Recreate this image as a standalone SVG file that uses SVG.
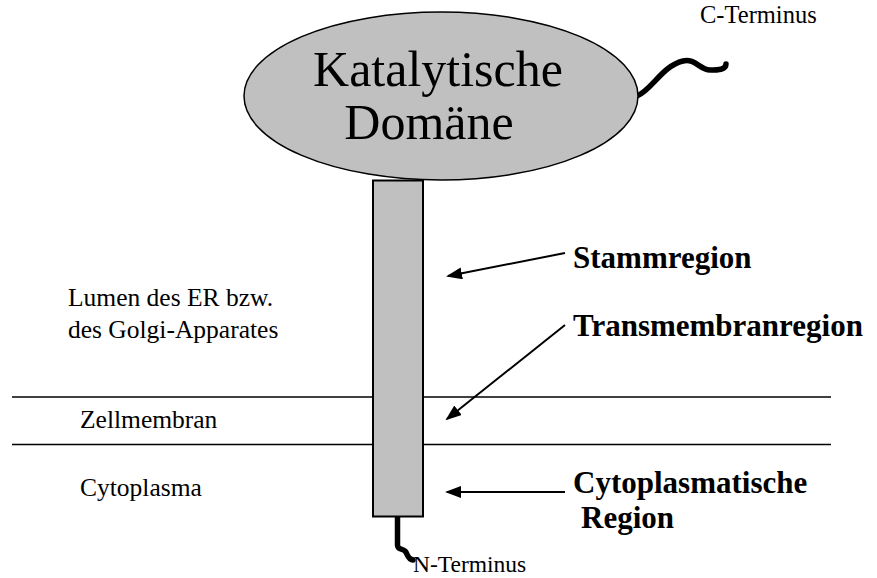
<svg xmlns="http://www.w3.org/2000/svg" width="877" height="578" viewBox="0 0 877 578">
<style>
.t{font-family:"Liberation Serif","Times New Roman",serif;fill:#000}
.s{font-size:25.5px}
.b{font-size:31px;font-weight:bold}
.ln{stroke:#000;stroke-width:1.5;fill:none}
.tail{stroke:#000;stroke-width:5.5;fill:none;stroke-linecap:round;stroke-linejoin:round}
.arr{stroke:#000;stroke-width:2;fill:none}
</style>
<defs>
<marker id="ah" markerWidth="16" markerHeight="12" refX="14" refY="6" orient="auto" markerUnits="userSpaceOnUse" viewBox="0 0 16 12">
<path d="M0,0 L16,6 L0,12 z" fill="#000"/>
</marker>
</defs>
<rect width="877" height="578" fill="#fff"/>
<g id="membrane">
<line class="ln" x1="12" y1="397" x2="831" y2="397"/>
<line class="ln" x1="12" y1="444.5" x2="831" y2="444.5"/>
</g>
<g id="tails">
<path class="tail" d="M637,96 C652,90 662,66 683,61 C695,58 700,70 710,70 C718,70 726,70 726,64"/>
<path class="tail" d="M397.5,517 L397.5,545 C397.5,550 402,548 405,551 C408,554 407,559 413,560"/>
</g>
<g id="catalytic">
<ellipse cx="441" cy="96" rx="197" ry="84" fill="#c0c0c0" stroke="#000" stroke-width="1.5"/>
<text class="t" x="438" y="86" font-size="50" text-anchor="middle">Katalytische</text>
<text class="t" x="429" y="139" font-size="50" text-anchor="middle">Domäne</text>
</g>
<g id="stem">
<rect x="373" y="180.5" width="50" height="336" fill="#c0c0c0" stroke="#000" stroke-width="2"/>
</g>
<g id="connectors">
<line class="arr" x1="565" y1="253" x2="448" y2="276" marker-end="url(#ah)"/>
<line class="arr" x1="565" y1="325" x2="447" y2="419" marker-end="url(#ah)"/>
<line class="arr" x1="565" y1="492" x2="447" y2="492" marker-end="url(#ah)"/>
</g>
<g id="labels">
<text class="t" x="700" y="23" font-size="24.5">C-Terminus</text>
<text class="t b" x="573" y="268">Stammregion</text>
<text class="t b" x="573" y="336">Transmembranregion</text>
<text class="t b" x="573" y="493">Cytoplasmatische</text>
<text class="t b" x="581" y="528">Region</text>
<text class="t s" x="68" y="306">Lumen des ER bzw.</text>
<text class="t s" x="68" y="338">des Golgi-Apparates</text>
<text class="t s" x="80" y="428">Zellmembran</text>
<text class="t s" x="80" y="496">Cytoplasma</text>
<text class="t" x="413" y="572" font-size="23.5">N-Terminus</text>
</g>
</svg>
